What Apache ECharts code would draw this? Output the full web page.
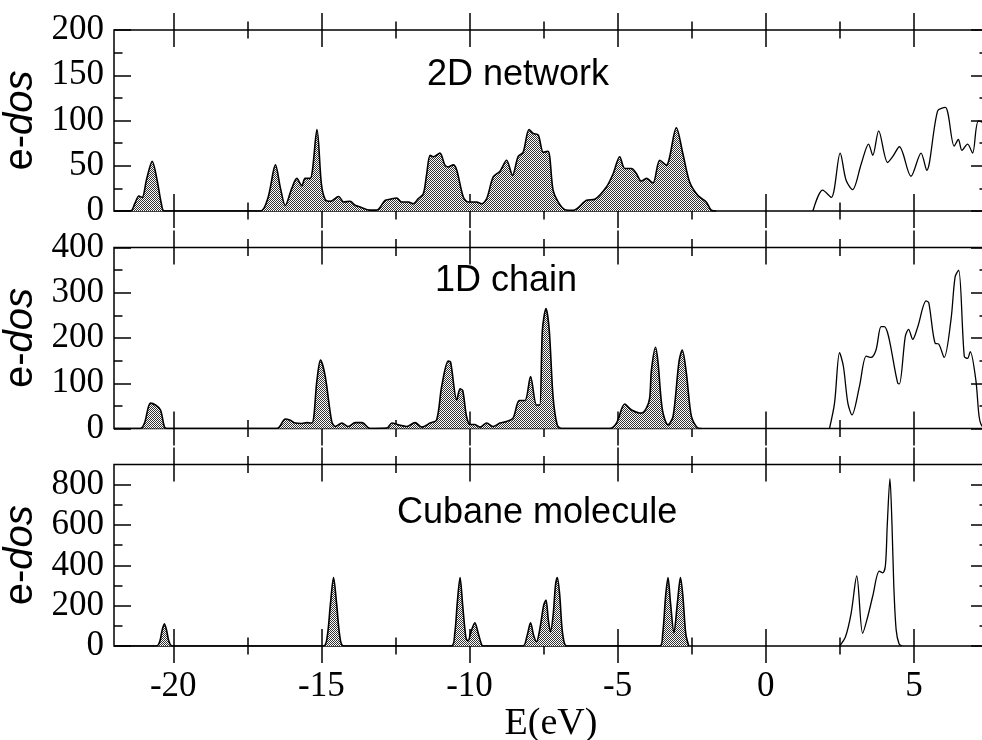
<!DOCTYPE html>
<html>
<head>
<meta charset="utf-8">
<script src="https://cdn.jsdelivr.net/npm/echarts@6/dist/echarts.min.js"></script>
<style>
html, body { margin: 0; padding: 0; overflow: hidden; background: #fff; }
#chart { width: 990px; height: 740px; }
</style>
</head>
<body>
<div id="chart"></div>
<script>
// x axis ticks (eV)
const eMajor = [-20, -15, -10, -5, 0, 5];
const eMinor = [-17.5, -12.5, -7.5, -2.5, 2.5];

// panel titles and y scales
const panelNames = ['2D network', '1D chain', 'Cubane molecule'];
const yMax = [200, 400, 900];
const yMajor = [[0, 50, 100, 150, 200], [0, 100, 200, 300, 400], [0, 200, 400, 600, 800]];
const yMinor = [[25, 75, 125, 175], [50, 150, 250, 350], [100, 300, 500, 700]];

// 2D network - occupied (filled)
const netOccE = [-22, -21.44, -21.3, -21.16, -21.05, -20.9, -20.71, -20.55, -20.4, -20.3, -17.06, -16.8, -16.55, -16.38, -16.22, -16.0, -15.83, -15.66, -15.55, -15.38, -15.15, -15.0, -14.87, -14.7, -14.42, -14.25, -14.03, -13.86, -13.69, -13.36, -13.13, -12.85, -12.68, -12.46, -12.29, -12.06, -11.9, -11.73, -11.56, -11.45, -11.33, -11.22, -11.0, -10.83, -10.72, -10.55, -10.43, -10.21, -10.04, -9.76, -9.59, -9.42, -9.2, -8.97, -8.75, -8.55, -8.36, -8.19, -7.99, -7.85, -7.68, -7.51, -7.35, -7.18, -7.01, -6.78, -6.5, -6.05, -5.77, -5.38, -5.15, -4.93, -4.76, -4.53, -4.37, -4.2, -4.03, -3.81, -3.58, -3.36, -3.02, -2.8, -2.57, -2.29, -2.01, -1.84, -1.67];
const netOccV = [0, 0, 8, 16.6, 15, 35, 55, 35, 8, 0, 0, 15, 51, 25, 6, 25, 36, 28, 36, 36, 90, 30, 12.6, 10.7, 16, 10, 10.7, 6.3, 4.4, 1, 1, 11.8, 13, 14.4, 10, 10, 8, 13.7, 19, 40, 61.6, 60, 64, 50.6, 48.7, 51, 45, 15.5, 10, 10, 8, 13.7, 37.6, 44, 56, 39.5, 60, 65, 90, 85.7, 83.8, 65, 66, 23, 10, 1.5, 0.8, 11.8, 13, 26.6, 41.4, 60, 47, 47, 41.4, 33, 36, 31, 56, 50.6, 92, 63.5, 32, 17, 10, 0.8, 0];
// 2D network - empty states (line)
const netUnoE = [1.59, 1.92, 2.21, 2.51, 2.71, 2.93, 3.22, 3.47, 3.61, 3.81, 4.11, 4.28, 4.51, 4.9, 5.24, 5.43, 5.8, 6.06, 6.36, 6.5, 6.62, 6.81, 6.98, 7.18, 7.5];
const netUnoV = [0, 23, 15, 64, 34, 23.7, 52, 74, 61.6, 88.5, 53.6, 60, 71, 38.4, 64, 45, 110.7, 114.4, 71.6, 79, 67, 74, 64, 99.6, 95];

// 1D chain - occupied
const chainOccE = [-22, -21.11, -20.97, -20.77, -20.6, -20.43, -20.3, -20.21, -16.5, -16.22, -16.05, -15.88, -15.66, -15.49, -15.32, -15.15, -15.03, -14.87, -14.65, -14.53, -14.31, -14.09, -13.86, -13.63, -13.36, -12.79, -12.62, -12.4, -12.12, -11.84, -11.61, -11.33, -11.11, -10.94, -10.72, -10.64, -10.43, -10.32, -10.23, -10.1, -9.98, -9.82, -9.65, -9.42, -9.2, -8.97, -8.75, -8.53, -8.32, -8.13, -7.94, -7.74, -7.63, -7.54, -7.42, -7.31, -7.18, -7.04, -6.89, -5.27, -5.04, -4.76, -4.53, -4.2, -4.03, -3.92, -3.86, -3.72, -3.64, -3.49, -3.3, -3.13, -2.93, -2.82, -2.68, -2.51, -2.29, -2.17];
const chainOccV = [0, 0, 12, 56, 52, 41, 4, 0, 0, 21, 18, 12, 11, 13, 12, 107, 151, 115, 15, 4.4, 12, 4.4, 13, 13, 0, 1, 12, 8, 4.4, 13, 3, 12, 19, 93, 149, 147, 63, 87.6, 84, 26.5, 9, 9, 3, 12, 4.4, 12, 15.5, 23, 62, 62, 115, 52, 52, 218, 265, 218, 70, 8, 0, 0, 12, 54, 41, 34, 45, 67, 129, 179.5, 148, 41, 8, 26.5, 148, 173.5, 122, 26.5, 1, 0];
// 1D chain - empty states
const chainUnoE = [2.15, 2.32, 2.49, 2.62, 2.77, 2.91, 3.16, 3.39, 3.55, 3.72, 3.89, 4.0, 4.45, 4.51, 4.71, 4.82, 4.96, 5.13, 5.41, 5.5, 5.72, 5.83, 6.02, 6.25, 6.39, 6.51, 6.7, 6.81, 6.9, 7.09, 7.2, 7.3, 7.5];
const chainUnoV = [0, 56, 167.6, 137, 56, 30, 92.6, 160, 157, 173.5, 225, 225, 101, 98.6, 204, 219, 197, 225, 282, 278, 188, 187, 157, 240, 335, 350, 159, 155, 170, 107, 26.5, 5, 0];

// Cubane molecule - occupied
const cubOccE = [-22, -20.56, -20.45, -20.38, -20.3, -20.22, -20.15, -20.04, -14.93, -14.8, -14.7, -14.59, -14.48, -14.38, -14.25, -10.62, -10.5, -10.41, -10.32, -10.23, -10.12, -10.05, -9.95, -9.82, -9.7, -9.6, -9.54, -8.2, -8.06, -7.94, -7.84, -7.74, -7.62, -7.5, -7.42, -7.34, -7.27, -7.18, -7.1, -7.04, -6.96, -6.88, -6.8, -6.72, -3.58, -3.48, -3.38, -3.3, -3.22, -3.1, -2.98, -2.88, -2.8, -2.7, -2.6];
const cubOccV = [0, 0, 25, 75, 110, 75, 25, 0, 0, 50, 200, 340, 200, 50, 0, 0, 60, 220, 340, 200, 40, 25, 70, 115, 60, 10, 0, 0, 50, 115, 55, 21, 90, 200, 228, 130, 71, 150, 300, 340, 260, 90, 15, 0, 0, 60, 250, 340, 220, 66, 220, 340, 250, 60, 0];
// Cubane molecule - empty states
const cubUnoE = [2.49, 2.69, 2.88, 3.07, 3.27, 3.44, 3.61, 3.83, 3.95, 4.04, 4.1, 4.19, 4.26, 4.32, 4.4, 4.5, 4.6];
const cubUnoV = [0, 46, 162, 347, 63, 145, 248, 371, 363, 403, 600, 830, 600, 300, 80, 10, 0];

const occ = [[netOccE, netOccV], [chainOccE, chainOccV], [cubOccE, cubOccV]];
const uno = [[netUnoE, netUnoV], [chainUnoE, chainUnoV], [cubUnoE, cubUnoV]];

const gridTop = [30, 247.5, 464.5];
const gridH = [181, 181, 181.5];

// dotted fill like the xmgrace pattern
const pat = document.createElement('canvas');
pat.width = 2; pat.height = 2;
const pc = pat.getContext('2d');
pc.fillStyle = '#fff'; pc.fillRect(0, 0, 2, 2);
pc.fillStyle = '#333'; pc.fillRect(0, 0, 1, 1); pc.fillRect(1, 1, 1, 1);

const black = '#000';
const serif = 'Liberation Serif';
const sans = 'Liberation Sans';

function xAx(g, pos, ticks, len, withLabels) {
    return {
        gridIndex: g, type: 'value', min: -22, max: 7.5, position: pos,
        offset: -len / 2,
        axisLine: { show: false, onZero: false },
        axisTick: { show: true, inside: false, length: len, customValues: ticks, lineStyle: { color: black, width: 1.5 } },
        axisLabel: withLabels
            ? { show: true, customValues: ticks, margin: 40, color: black, fontFamily: serif, fontSize: 35 }
            : { show: false },
        splitLine: { show: false },
        name: withLabels ? 'E(eV)' : '',
        nameLocation: 'middle',
        nameGap: 71,
        nameTextStyle: { color: black, fontFamily: serif, fontSize: 38 }
    };
}

function yAx(g, pos, ticks, len, withLabels) {
    return {
        gridIndex: g, type: 'value', min: 0, max: yMax[g], position: pos,
        axisLine: { show: false, onZero: false },
        axisTick: { show: true, inside: true, length: len, customValues: ticks, lineStyle: { color: black, width: 1.5 } },
        axisLabel: withLabels
            ? { show: true, customValues: ticks, margin: 10, color: black, fontFamily: serif, fontSize: 35 }
            : { show: false },
        splitLine: { show: false },
        name: withLabels ? '{a|e-}{b|dos}' : '',
        nameLocation: 'middle',
        nameRotate: 90,
        nameGap: 63,
        nameTextStyle: {
            color: black, fontFamily: sans, fontSize: 40,
            rich: {
                a: { fontFamily: sans, fontSize: 40, color: black },
                b: { fontFamily: sans, fontSize: 40, color: black, fontStyle: 'italic' }
            }
        }
    };
}

const xAxes = [], yAxes = [], grids = [], series = [], titles = [];
const titleLeft = [427, 435, 397];
const titleTop = [57, 263, 495];

for (let i = 0; i < 3; i++) {
    grids.push({
        left: 114, top: gridTop[i], width: 874, height: gridH[i],
        outerBoundsMode: 'none', containLabel: false,
        show: true, borderColor: black, borderWidth: 1.5, backgroundColor: 'transparent'
    });
    xAxes.push(xAx(i, 'bottom', eMajor, 34, i === 2));
    xAxes.push(xAx(i, 'bottom', eMinor, 17, false));
    xAxes.push(xAx(i, 'top', eMajor, 34, false));
    xAxes.push(xAx(i, 'top', eMinor, 17, false));
    yAxes.push(yAx(i, 'left', yMajor[i], 17, true));
    yAxes.push(yAx(i, 'left', yMinor[i], 8.5, false));
    yAxes.push(yAx(i, 'right', yMajor[i], 17, false));
    yAxes.push(yAx(i, 'right', yMinor[i], 8.5, false));

    series.push({
        type: 'line', xAxisIndex: 4 * i, yAxisIndex: 4 * i,
        data: occ[i][0].map((e, k) => [e, occ[i][1][k]]),
        symbol: 'none', smooth: 0.3,
        lineStyle: { color: black, width: 1.6 },
        areaStyle: { color: { image: pat, repeat: 'repeat' }, opacity: 1 }
    });
    series.push({
        type: 'line', xAxisIndex: 4 * i, yAxisIndex: 4 * i,
        data: uno[i][0].map((e, k) => [e, uno[i][1][k]]),
        symbol: 'none', smooth: 0.3,
        lineStyle: { color: black, width: 1.3 }
    });
    titles.push({
        text: panelNames[i], left: titleLeft[i], top: titleTop[i], padding: 0,
        textStyle: { fontFamily: sans, fontSize: 36, fontWeight: 'normal', color: black }
    });
}

const chart = echarts.init(document.getElementById('chart'));
chart.setOption({
    animation: false,
    backgroundColor: '#fff',
    title: titles,
    grid: grids,
    xAxis: xAxes,
    yAxis: yAxes,
    series: series
});
</script>
</body>
</html>
